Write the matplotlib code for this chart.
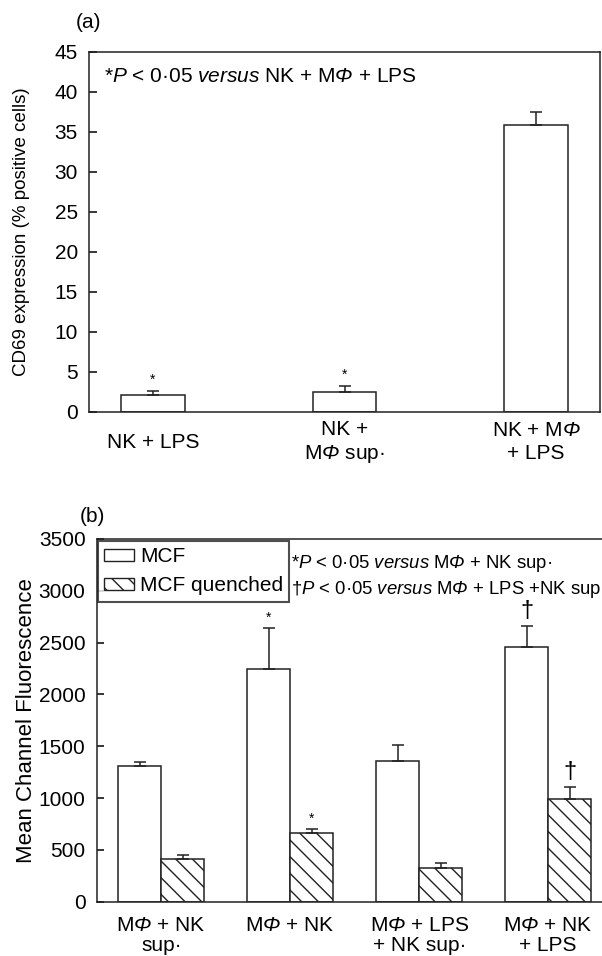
import numpy as np
import matplotlib
matplotlib.use('Agg')
import matplotlib.pyplot as plt
from matplotlib.patches import Patch

plt.rcParams['font.family'] = ['Liberation Sans', 'DejaVu Sans']
plt.rcParams['mathtext.fontset'] = 'custom'
plt.rcParams['mathtext.rm'] = 'Liberation Sans'
plt.rcParams['mathtext.it'] = 'Liberation Sans:italic'
plt.rcParams['mathtext.sf'] = 'Liberation Sans:italic'
plt.rcParams['hatch.linewidth'] = 1.0

PHI = r'M$\mathsf{\Phi}$'

# panel (a) data
a_labels = ['NK + LPS', 'NK +\n' + PHI + ' sup·', 'NK + ' + PHI + '\n+ LPS']
a_vals = [2.1, 2.4, 35.8]
a_err = [0.5, 0.8, 1.7]
a_sig = ['*', '*', '']

# panel (b) data
b_labels = [PHI + ' + NK\nsup·', PHI + ' + NK', PHI + ' + LPS\n+ NK sup·', PHI + ' + NK\n+ LPS']
mcf = [1310, 2250, 1360, 2455]
mcf_err = [40, 395, 148, 205]
mcf_sig = ['', '*', '', '†']
quench = [412, 660, 329, 988]
quench_err = [42, 42, 42, 122]
quench_sig = ['', '*', '', '†']

edge = '#222222'
fs = 15

fig = plt.figure(figsize=(6.02, 9.56), dpi=100)

# ---------- panel (a) ----------
ax1 = fig.add_axes([89/602, 1 - 411.7/956, 511/602, 360/956])
x = np.arange(len(a_vals))
ax1.bar(x, a_vals, width=1/3, color='white', edgecolor=edge, linewidth=1.1,
        yerr=[np.zeros(len(a_err)), a_err], capsize=4.5,
        error_kw=dict(ecolor=edge, elinewidth=1.1, capthick=1.1))
for xi, v, e, s in zip(x, a_vals, a_err, a_sig):
    if s:
        ax1.text(xi, v + e + 0.5, s, ha='center', va='bottom', fontsize=10)
ax1.set_xlim(-1/3, 2 + 1/3)
ax1.set_ylim(0, 45)
ax1.set_yticks(np.arange(0, 46, 5))
ax1.set_xticks(x)
ax1.set_xticklabels(a_labels, fontsize=fs, va='center', linespacing=1.25)
ax1.tick_params(axis='x', length=0, pad=22)
ax1.tick_params(axis='y', direction='in', length=6, width=1.1, labelsize=fs, pad=8)
for sp in ax1.spines.values():
    sp.set_linewidth(1.1)
    sp.set_color(edge)
ax1.set_ylabel('CD69 expression (% positive cells)', fontsize=13.5, labelpad=18)
ax1.text(0.03, 0.93, r'*$\mathit{P}$ < 0·05 $\mathit{versus}$ NK + ' + PHI + ' + LPS',
         transform=ax1.transAxes, fontsize=fs, ha='left', va='center')
fig.text(88/602, 1 - 23/956, '(a)', fontsize=fs, ha='center', va='center')

# ---------- panel (b) ----------
ax2 = fig.add_axes([96.7/602, 1 - 901.7/956, 516/602, 362.7/956])
xb = np.arange(len(mcf))
w = 1/3
ax2.bar(xb - w/2, mcf, width=w, color='white', edgecolor=edge, linewidth=1.1,
        yerr=[np.zeros(len(mcf_err)), mcf_err], capsize=4.5,
        error_kw=dict(ecolor=edge, elinewidth=1.1, capthick=1.1))
ax2.bar(xb + w/2, quench, width=w, color='white', edgecolor=edge, linewidth=1.1,
        hatch='\\\\',
        yerr=[np.zeros(len(quench_err)), quench_err], capsize=4.5,
        error_kw=dict(ecolor=edge, elinewidth=1.1, capthick=1.1))
for xs, vals, errs, sigs in [(xb - w/2, mcf, mcf_err, mcf_sig),
                             (xb + w/2, quench, quench_err, quench_sig)]:
    for xi, v, e, s in zip(xs, vals, errs, sigs):
        if s == '*':
            ax2.text(xi, v + e + 30, s, ha='center', va='bottom', fontsize=10)
        elif s:
            ax2.text(xi, v + e + 40, s, ha='center', va='bottom', fontsize=17)
ax2.set_xlim(-0.5, 3.5)
ax2.set_ylim(0, 3500)
ax2.set_yticks(np.arange(0, 3501, 500))
ax2.set_xticks(xb)
ax2.set_xticklabels(b_labels, fontsize=fs, linespacing=1.1)
ax2.tick_params(axis='x', length=0, pad=10)
ax2.tick_params(axis='y', direction='in', length=5, width=1.1, labelsize=fs, pad=8)
for sp in ax2.spines.values():
    sp.set_linewidth(1.1)
    sp.set_color(edge)
ax2.set_ylabel('Mean Channel Fluorescence', fontsize=16, labelpad=1)
handles = [Patch(facecolor='white', edgecolor=edge, linewidth=1.0, label='MCF'),
           Patch(facecolor='white', edgecolor=edge, linewidth=1.0, hatch='\\\\', label='MCF quenched')]
leg = ax2.legend(handles=handles, loc='upper left', bbox_to_anchor=(0.003, 0.995),
                 fontsize=fs, frameon=True, fancybox=False, borderpad=0.3,
                 handlelength=1.4, handleheight=0.5, handletextpad=0.3,
                 labelspacing=0.5, borderaxespad=0)
leg.get_frame().set_edgecolor(edge)
leg.get_frame().set_linewidth(1.5)
ax2.text(291/602, 1 - 564/956, r'*$\mathit{P}$ < 0·05 $\mathit{versus}$ ' + PHI + ' + NK sup·',
         transform=fig.transFigure, fontsize=13.3, ha='left', va='center')
ax2.text(291/602, 1 - 589/956, r'†$\mathit{P}$ < 0·05 $\mathit{versus}$ ' + PHI + ' + LPS +NK sup',
         transform=fig.transFigure, fontsize=13.3, ha='left', va='center')
fig.text(92/602, 1 - 516/956, '(b)', fontsize=fs, ha='center', va='center')

fig.savefig('out.png', dpi=100)
